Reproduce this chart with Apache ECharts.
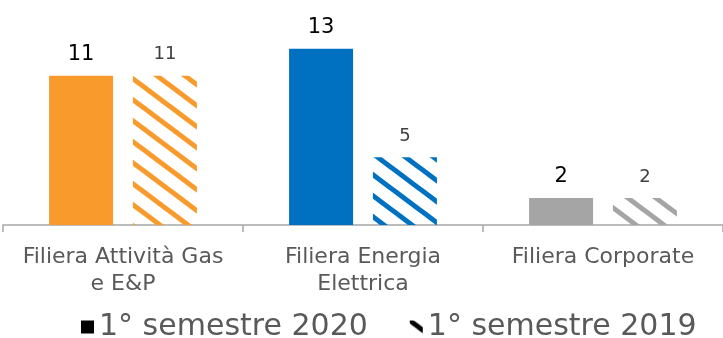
<!DOCTYPE html>
<html lang="it" style="height: 100%">
<head>
  <meta charset="utf-8">
</head>
<body style="height: 100%; margin: 0; background: #fff">
  <div id="container" style="width: 723px; height: 338px"></div>

  <script type="text/javascript" src="https://cdn.jsdelivr.net/npm/echarts@6/dist/echarts.min.js"></script>
  <script type="text/javascript">
    var categories = ['Filiera Attività Gas\ne E&P', 'Filiera Energia\nElettrica', 'Filiera Corporate'];
    var sem2020 = [11, 13, 2];
    var sem2019 = [11, 5, 2];
    var seriesNames = ['1° semestre 2020', '1° semestre 2019'];
    var barColors = ['#F99A2C', '#0070C0', '#A5A5A5'];

    // diagonal stripes, like the excel "wide downward diagonal" fill
    function hatch(color) {
      var c = document.createElement('canvas');
      c.width = 28;
      c.height = 21;
      var ctx = c.getContext('2d');
      ctx.strokeStyle = color;
      ctx.lineWidth = 5;
      [-28, 0, 28].forEach(function (dx) {
        ctx.beginPath();
        ctx.moveTo(dx - 28, -21);
        ctx.lineTo(dx + 56, 42);
        ctx.stroke();
      });
      return { image: c, repeat: 'repeat' };
    }

    var dom = document.getElementById('container');
    var myChart = echarts.init(dom, null, { renderer: 'canvas' });

    var option = {
      animation: false,
      backgroundColor: '#fff',
      grid: { left: 3, right: -6, top: 8, bottom: 113 },
      legend: {
        left: 76,
        top: 307,
        itemWidth: 13,
        itemHeight: 13,
        itemGap: 42,
        icon: 'rect',
        textStyle: { fontFamily: 'DejaVu Sans', fontSize: 30, color: '#595959' },
        data: seriesNames
      },
      xAxis: {
        type: 'category',
        data: categories,
        axisLine: { lineStyle: { color: '#A6A6A6', width: 1.5 } },
        axisTick: {
          show: true,
          length: 7,
          lineStyle: { color: '#A6A6A6', width: 1.5 }
        },
        axisLabel: {
          interval: 0,
          margin: 19,
          fontFamily: 'DejaVu Sans',
          fontSize: 22,
          lineHeight: 27,
          color: '#595959'
        }
      },
      yAxis: {
        type: 'value',
        min: 0,
        max: 16,
        show: false,
        splitLine: { show: false }
      },
      series: [
        {
          name: seriesNames[0],
          type: 'bar',
          barWidth: 64,
          barGap: '31%',
          itemStyle: { color: '#000' },
          label: {
            show: true,
            position: 'top',
            distance: 11,
            fontFamily: 'DejaVu Sans',
            fontSize: 21,
            color: '#000'
          },
          data: sem2020.map(function (v, i) {
            return { value: v, itemStyle: { color: barColors[i] } };
          })
        },
        {
          name: seriesNames[1],
          type: 'bar',
          barWidth: 64,
          itemStyle: { color: hatch('#000') },
          label: {
            show: true,
            position: 'top',
            distance: 12,
            fontFamily: 'DejaVu Sans',
            fontSize: 18,
            color: '#404040'
          },
          data: sem2019.map(function (v, i) {
            return { value: v, itemStyle: { color: hatch(barColors[i]) } };
          })
        }
      ]
    };

    myChart.setOption(option);
    window.addEventListener('resize', myChart.resize);
  </script>
</body>
</html>
